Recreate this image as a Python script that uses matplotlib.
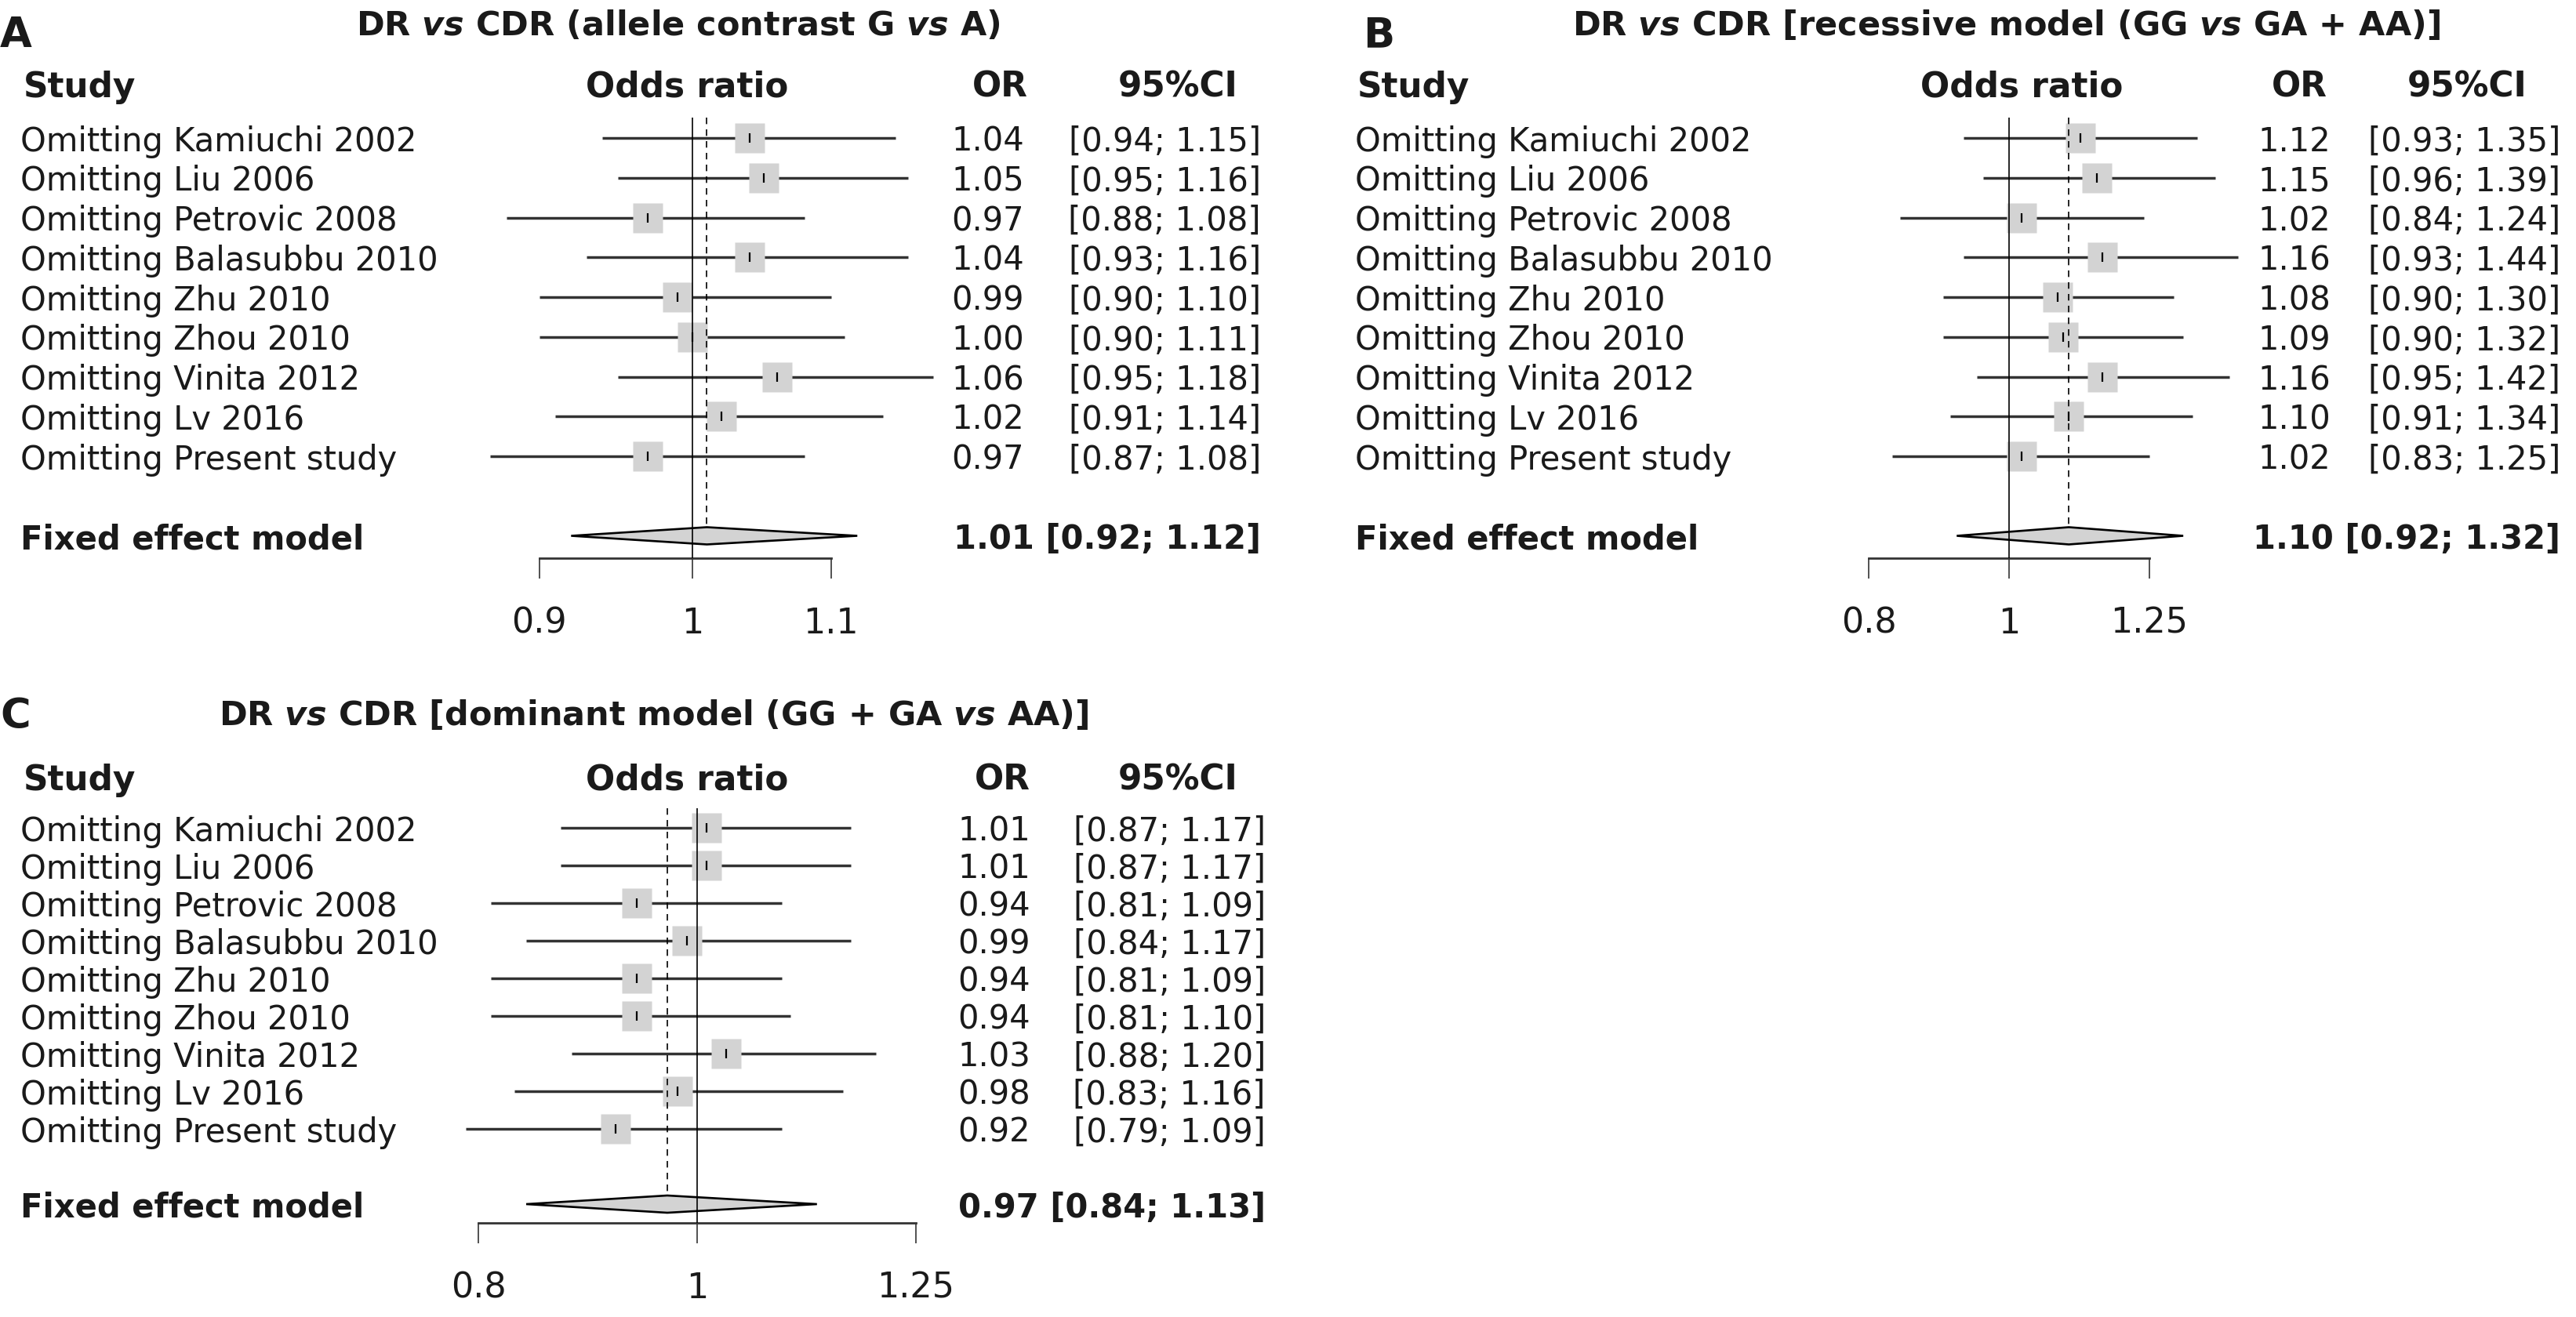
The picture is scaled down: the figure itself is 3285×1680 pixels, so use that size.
import matplotlib

matplotlib.use("Agg")
import matplotlib.pyplot as plt
import numpy as np
from matplotlib import transforms
from matplotlib.patches import Polygon
from matplotlib.ticker import FixedFormatter, FixedLocator, NullLocator

plt.rcParams["font.family"] = ["DejaVu Sans"]
plt.rcParams["mathtext.fontset"] = "custom"
plt.rcParams["mathtext.rm"] = "DejaVu Sans:bold"
plt.rcParams["mathtext.bf"] = "DejaVu Sans:bold"
plt.rcParams["mathtext.it"] = "DejaVu Sans:italic:bold"

W, H = 3285, 1681
INK = "#1a1a1a"
LINE = "#333333"
SQUARE = "#d3d3d3"

# ---- data -------------------------------------------------------------------
studies = [
    "Omitting Kamiuchi 2002",
    "Omitting Liu 2006",
    "Omitting Petrovic 2008",
    "Omitting Balasubbu 2010",
    "Omitting Zhu 2010",
    "Omitting Zhou 2010",
    "Omitting Vinita 2012",
    "Omitting Lv 2016",
    "Omitting Present study",
]

a_or = [1.04, 1.05, 0.97, 1.04, 0.99, 1.00, 1.06, 1.02, 0.97]
a_lo = [0.94, 0.95, 0.88, 0.93, 0.90, 0.90, 0.95, 0.91, 0.87]
a_hi = [1.15, 1.16, 1.08, 1.16, 1.10, 1.11, 1.18, 1.14, 1.08]
a_fixed = (1.01, 0.92, 1.12)
a_ticks = [0.9, 1, 1.1]
a_ticklabels = ["0.9", "1", "1.1"]

b_or = [1.12, 1.15, 1.02, 1.16, 1.08, 1.09, 1.16, 1.10, 1.02]
b_lo = [0.93, 0.96, 0.84, 0.93, 0.90, 0.90, 0.95, 0.91, 0.83]
b_hi = [1.35, 1.39, 1.24, 1.44, 1.30, 1.32, 1.42, 1.34, 1.25]
b_fixed = (1.10, 0.92, 1.32)
b_ticks = [0.8, 1, 1.25]
b_ticklabels = ["0.8", "1", "1.25"]

c_or = [1.01, 1.01, 0.94, 0.99, 0.94, 0.94, 1.03, 0.98, 0.92]
c_lo = [0.87, 0.87, 0.81, 0.84, 0.81, 0.81, 0.88, 0.83, 0.79]
c_hi = [1.17, 1.17, 1.09, 1.17, 1.09, 1.10, 1.20, 1.16, 1.09]
c_fixed = (0.97, 0.84, 1.13)
c_ticks = [0.8, 1, 1.25]
c_ticklabels = ["0.8", "1", "1.25"]

titles = {
    "A": r"DR $\mathit{vs}$ CDR (allele contrast G $\mathit{vs}$ A)",
    "B": r"DR $\mathit{vs}$ CDR [recessive model (GG $\mathit{vs}$ GA + AA)]",
    "C": r"DR $\mathit{vs}$ CDR [dominant model (GG + GA $\mathit{vs}$ AA)]",
}

# ---- layout (pixels of the final image) ---------------------------------------
PANELS = [
    dict(tag="A", est=a_or, lo=a_lo, hi=a_hi, fixed=a_fixed, ticks=a_ticks, ticklabels=a_ticklabels,
         letter=(0, 60), title=(865, 45), header_y=124, row0=177, step=50.75, axis_y=713,
         x1=883, ppl=1855, xlim=(0.85, 1.22),
         study_x=26, header_study_x=30, odds_x=876, or_hdr_x=1311, or_x=1306, ci_hdr_x=1502, ci_x=1608),
    dict(tag="B", est=b_or, lo=b_lo, hi=b_hi, fixed=b_fixed, ticks=b_ticks, ticklabels=b_ticklabels,
         letter=(1738, 60), title=(2558, 45), header_y=124, row0=177, step=50.75, axis_y=713,
         x1=2562, ppl=800, xlim=(0.78, 1.5),
         study_x=1728, header_study_x=1731, odds_x=2578, or_hdr_x=2968, or_x=2972, ci_hdr_x=3146, ci_x=3265),
    dict(tag="C", est=c_or, lo=c_lo, hi=c_hi, fixed=c_fixed, ticks=c_ticks, ticklabels=c_ticklabels,
         letter=(0, 929), title=(834, 925), header_y=1008, row0=1057, step=48.0, axis_y=1561,
         x1=889, ppl=1250, xlim=(0.76, 1.28),
         study_x=26, header_study_x=30, odds_x=876, or_hdr_x=1314, or_x=1314, ci_hdr_x=1502, ci_x=1614),
]


def fx(px):
    return px / W


def fy(py):
    return 1 - py / H


def draw_panel(fig, p):
    n = len(p["est"])
    y_fix = n + 1
    y_top = -0.52
    y_bot = (p["axis_y"] - p["row0"]) / p["step"]

    left = p["x1"] + p["ppl"] * np.log(p["xlim"][0])
    right = p["x1"] + p["ppl"] * np.log(p["xlim"][1])
    top = p["row0"] + p["step"] * y_top
    bottom = p["axis_y"]
    ax = fig.add_axes([fx(left), fy(bottom), (right - left) / W, (bottom - top) / H])
    ax.set_xscale("log")
    ax.set_xlim(*p["xlim"])
    ax.set_ylim(y_bot, y_top)
    ax.patch.set_visible(False)
    for side in ("top", "left", "right"):
        ax.spines[side].set_visible(False)
    ax.spines["bottom"].set_bounds(p["ticks"][0], p["ticks"][-1])
    ax.spines["bottom"].set_linewidth(2.0)
    ax.spines["bottom"].set_color(LINE)
    ax.set_yticks([])
    ax.xaxis.set_major_locator(FixedLocator(p["ticks"]))
    ax.xaxis.set_major_formatter(FixedFormatter(p["ticklabels"]))
    ax.xaxis.set_minor_locator(NullLocator())
    ax.tick_params(axis="x", length=18.7, width=1.2, pad=25, labelsize=32, color=LINE, labelcolor=INK)

    y = np.arange(n)
    est, lo, hi = np.array(p["est"]), np.array(p["lo"]), np.array(p["hi"])
    ax.hlines(y, lo, hi, color=LINE, lw=2.5, zorder=2)
    ax.plot(est, y, "s", ms=27, color=SQUARE, mec="none", zorder=3)
    ax.plot(est, y, "|", ms=9, mew=1.6, color="k", zorder=5)

    f_est, f_lo, f_hi = p["fixed"]
    h = 11 / p["step"]
    ax.vlines(f_est, y_top, y_fix, color="k", lw=1.2, linestyles=(0, (5, 4)), zorder=4)
    diamond = Polygon([(f_lo, y_fix), (f_est, y_fix - h), (f_hi, y_fix), (f_est, y_fix + h)],
                      closed=True, facecolor=SQUARE, edgecolor="k", lw=1.9, zorder=5)
    ax.add_patch(diamond)
    ax.axvline(1, color="k", lw=1.2, zorder=6)

    # text columns
    tr = transforms.blended_transform_factory(fig.transFigure, ax.transData)
    trb = transforms.offset_copy(tr, fig=fig, y=-11.2, units="points")
    fs = 30
    for yi, name, e, l, u in zip(y, studies, est, lo, hi):
        ax.text(fx(p["study_x"]), yi, name, transform=trb, ha="left", va="baseline", fontsize=fs, color=INK)
        ax.text(fx(p["or_x"]), yi, f"{e:.2f}", transform=trb, ha="right", va="baseline", fontsize=fs, color=INK)
        ax.text(fx(p["ci_x"]), yi, f"[{l:.2f}; {u:.2f}]", transform=trb, ha="right", va="baseline",
                fontsize=fs, color=INK)
    ax.text(fx(p["study_x"]), y_fix, "Fixed effect model", transform=trb, ha="left", va="baseline",
            fontsize=fs, fontweight="bold", color=INK)
    ax.text(fx(p["ci_x"]), y_fix, f"{f_est:.2f} [{f_lo:.2f}; {f_hi:.2f}]", transform=trb, ha="right",
            va="baseline", fontsize=fs, fontweight="bold", color=INK)

    hy = fy(p["header_y"])
    hkw = dict(fontsize=31.5, fontweight="bold", color=INK, va="baseline")
    fig.text(fx(p["header_study_x"]), hy, "Study", ha="left", **hkw)
    fig.text(fx(p["odds_x"]), hy, "Odds ratio", ha="center", **hkw)
    fig.text(fx(p["or_hdr_x"]), hy, "OR", ha="right", **hkw)
    fig.text(fx(p["ci_hdr_x"]), hy, "95%CI", ha="center", **hkw)

    lx, ly = p["letter"]
    fig.text(fx(lx), fy(ly), p["tag"], ha="left", va="baseline", fontsize=38, fontweight="bold", color=INK)
    tx, ty = p["title"]
    fig.text(fx(tx), fy(ty), titles[p["tag"]], ha="center", va="baseline", fontsize=31,
             fontweight="bold", color=INK)


fig = plt.figure(figsize=(W / 100, H / 100), dpi=100)
fig.patch.set_facecolor("white")
for panel in PANELS:
    draw_panel(fig, panel)
fig.savefig("out.png", dpi=100, facecolor="white")
